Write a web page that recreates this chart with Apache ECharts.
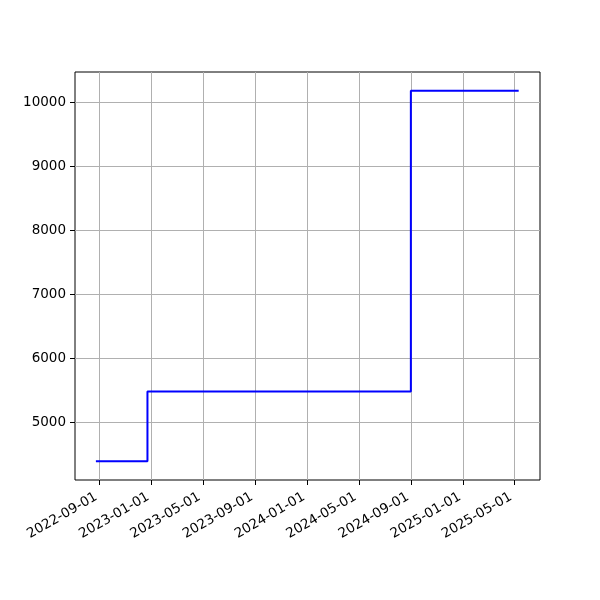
<!DOCTYPE html>
<html><head><meta charset="utf-8">
<script src="https://cdn.jsdelivr.net/npm/echarts@6/dist/echarts.min.js"></script>
<style>html,body{margin:0;padding:0;background:#fff}#c{width:600px;height:600px}</style>
</head><body><div id="c"></div>
<script>
const dates = ['2022-08-23', '2022-12-22', '2024-08-31', '2025-05-11'];
const values = [4390, 5480, 10180, 10180];
const xTicks = ['2022-09-01','2023-01-01','2023-05-01','2023-09-01','2024-01-01','2024-05-01','2024-09-01','2025-01-01','2025-05-01'];
const yTicks = [5000, 6000, 7000, 8000, 9000, 10000];

const ts = s => Date.parse(s + 'T00:00:00Z');
const xTickTs = xTicks.map(ts);
const fmt = v => { const d = new Date(v); const p = n => String(n).padStart(2,'0'); return d.getUTCFullYear()+'-'+p(d.getUTCMonth()+1)+'-'+p(d.getUTCDate()); };

const chart = echarts.init(document.getElementById('c'), null, {renderer:'canvas'});
chart.setOption({
  animation: false,
  grid: {left: 75, right: 60, top: 72, bottom: 120, show: true, borderColor: '#000', borderWidth: 1, backgroundColor: 'transparent'},
  xAxis: {
    type: 'value', min: ts('2022-07-05'), max: ts('2025-06-30'),
    axisLine: {show: false},
    axisTick: {show: true, customValues: xTickTs, length: 5, lineStyle: {color: '#000'}},
    axisLabel: {customValues: xTickTs, formatter: v => fmt(v), rotate: 30, color: '#000', fontFamily: 'DejaVu Sans', fontSize: 13.5, margin: 14, padding: [0, 4, 0, 0], hideOverlap: false},
    splitLine: {show: true, lineStyle: {color: '#b0b0b0', width: 1}}
  },
  yAxis: {
    type: 'value', min: 4096, max: 10473,
    axisLine: {show: false},
    axisTick: {show: true, customValues: yTicks, length: 5, lineStyle: {color: '#000'}},
    axisLabel: {customValues: yTicks, formatter: v => String(v), color: '#000', fontFamily: 'DejaVu Sans', fontSize: 13.5, margin: 9},
    splitLine: {show: true, lineStyle: {color: '#b0b0b0', width: 1}}
  },
  series: [{
    type: 'line', step: 'end', showSymbol: false,
    data: dates.map((d, i) => [ts(d), values[i]]),
    lineStyle: {color: '#0000ff', width: 2}
  }]
});
</script></body></html>
